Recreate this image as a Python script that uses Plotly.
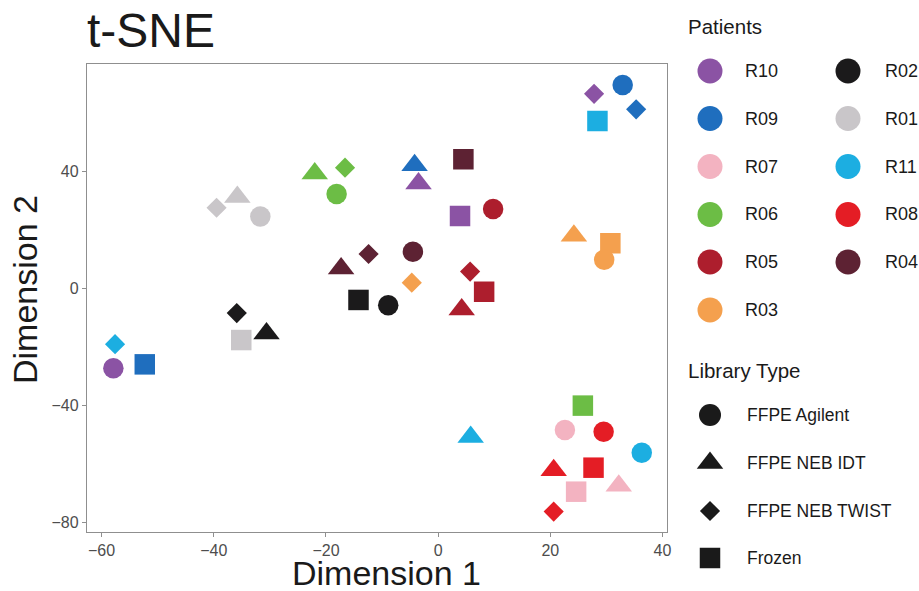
import plotly.graph_objects as go

# ---------------- data ----------------
patients = ["R10", "R10", "R10", "R10",
            "R09", "R09", "R09", "R09",
            "R07", "R07", "R07",
            "R06", "R06", "R06", "R06",
            "R05", "R05", "R05", "R05",
            "R03", "R03", "R03", "R03",
            "R02", "R02", "R02", "R02",
            "R01", "R01", "R01", "R01",
            "R11", "R11", "R11", "R11",
            "R08", "R08", "R08", "R08",
            "R04", "R04", "R04", "R04"]
library = ["FFPE NEB TWIST", "FFPE NEB IDT", "Frozen", "FFPE Agilent",
           "FFPE Agilent", "FFPE NEB TWIST", "FFPE NEB IDT", "Frozen",
           "FFPE Agilent", "Frozen", "FFPE NEB IDT",
           "FFPE NEB IDT", "FFPE NEB TWIST", "FFPE Agilent", "Frozen",
           "FFPE Agilent", "FFPE NEB TWIST", "Frozen", "FFPE NEB IDT",
           "FFPE NEB IDT", "Frozen", "FFPE Agilent", "FFPE NEB TWIST",
           "Frozen", "FFPE Agilent", "FFPE NEB TWIST", "FFPE NEB IDT",
           "FFPE NEB TWIST", "FFPE NEB IDT", "FFPE Agilent", "Frozen",
           "Frozen", "FFPE NEB TWIST", "FFPE NEB IDT", "FFPE Agilent",
           "FFPE Agilent", "FFPE NEB IDT", "Frozen", "FFPE NEB TWIST",
           "FFPE NEB IDT", "FFPE NEB TWIST", "Frozen", "FFPE Agilent"]
dim1 = [27.8, -3.5, 3.9, -57.9,
        32.9, 35.3, -4.2, -52.3,
        22.6, 24.6, 32.2,
        -22.0, -16.6, -18.1, 25.8,
        9.8, 5.7, 8.2, 4.2,
        24.2, 30.7, 29.6, -4.7,
        -14.2, -8.9, -35.9, -30.6,
        -39.5, -35.8, -31.7, -35.1,
        28.4, -57.6, 5.8, 36.3,
        29.5, 20.6, 27.7, 20.6,
        -17.3, -12.4, 4.5, -4.5]
dim2 = [66.4, 35.8, 24.7, -27.3,
        69.4, 61.1, 42.0, -26.0,
        -48.4, -69.5, -67.5,
        39.2, 41.2, 32.2, -40.1,
        27.1, 5.7, -1.2, -7.3,
        17.9, 15.4, 9.7, 1.9,
        -4.0, -5.8, -8.5, -15.5,
        27.5, 31.2, 24.5, -17.7,
        57.1, -19.1, -50.8, -56.2,
        -49.0, -62.2, -61.3, -76.3,
        6.7, 11.7, 44.1, 12.5]

patient_col1 = ["R10", "R09", "R07", "R06", "R05", "R03"]
patient_col2 = ["R02", "R01", "R11", "R08", "R04"]
library_types = ["FFPE Agilent", "FFPE NEB IDT", "FFPE NEB TWIST", "Frozen"]
x_ticks = [-60, -40, -20, 0, 20, 40]
y_ticks = [-80, -40, 0, 40]

# ---------------- styles ----------------
colors = {"R10": "#8B53A4", "R09": "#1F6EBE", "R07": "#F3B3C1", "R06": "#6CBD45",
          "R05": "#AD1E2D", "R03": "#F4A04E", "R02": "#1B1A1B", "R01": "#C9C6C9",
          "R11": "#1CAEE1", "R08": "#E41D25", "R04": "#5D2233"}
symbols = {"FFPE Agilent": "circle", "FFPE NEB IDT": "triangle-up",
           "FFPE NEB TWIST": "diamond", "Frozen": "square"}
sizes = {"FFPE Agilent": 20.5, "FFPE NEB IDT": 23, "FFPE NEB TWIST": 15.5, "Frozen": 20.5}
legend_sizes = {"FFPE Agilent": 22, "FFPE NEB IDT": 23, "FFPE NEB TWIST": 15.5, "Frozen": 20.5}

W, H = 919, 591
FONT = "Liberation Sans, Arial, sans-serif"
TXT = "#1a1a1a"
AX = "#8f8f8f"

fig = go.Figure()

# draw order: R09 beneath R10 where they overlap
order = ["R09", "R10", "R07", "R06", "R05", "R03", "R02", "R01", "R11", "R08", "R04"]
for p in order:
    idx = [i for i, q in enumerate(patients) if q == p]
    fig.add_trace(go.Scatter(
        x=[dim1[i] for i in idx], y=[dim2[i] for i in idx],
        mode="markers", showlegend=False, hoverinfo="skip",
        marker=dict(color=colors[p], opacity=1,
                    symbol=[symbols[library[i]] for i in idx],
                    size=[sizes[library[i]] for i in idx],
                    line=dict(width=0)),
        xaxis="x", yaxis="y"))

# ---------------- manual legend (page-pixel helper axes) ----------------
annotations = []
def px_ann(text, x, y, size, xanchor="left", yanchor="middle", textangle=0, color=TXT):
    annotations.append(dict(text=text, x=x / W, y=1 - y / H,
                            xref="paper", yref="paper",
                            xanchor=xanchor, yanchor=yanchor, showarrow=False,
                            textangle=textangle, font=dict(family=FONT, size=size, color=color)))

row_y = [71, 118.5, 166.5, 214.5, 262, 310]
lx, ly, lc = [], [], []
for col_x, lab_x, names in [(710, 743, patient_col1), (848, 883, patient_col2)]:
    for j, p in enumerate(names):
        lx.append(col_x); ly.append(row_y[j]); lc.append(colors[p])
        px_ann(p, lab_x, row_y[j], 18)
fig.add_trace(go.Scatter(x=lx, y=ly, mode="markers", showlegend=False, hoverinfo="skip",
                         marker=dict(color=lc, size=25, symbol="circle", opacity=1, line=dict(width=0)),
                         xaxis="x2", yaxis="y2", cliponaxis=False))

lib_y = [415, 463, 511, 558]
fig.add_trace(go.Scatter(x=[710] * len(library_types), y=lib_y, mode="markers",
                         showlegend=False, hoverinfo="skip",
                         marker=dict(color=TXT, size=[legend_sizes[t] for t in library_types],
                                     symbol=[symbols[t] for t in library_types], opacity=1,
                                     line=dict(width=0)),
                         xaxis="x2", yaxis="y2", cliponaxis=False))
for t, yy in zip(library_types, lib_y):
    px_ann(t, 745, yy, 17.5)

px_ann("Patients", 686, 26, 20.5)
px_ann("Library Type", 686, 370, 20.5)
px_ann("t-SNE", 85, 30, 48)
px_ann("Dimension 1", 386, 573, 34, xanchor="center")
px_ann("Dimension 2", 25, 290, 34, xanchor="center", textangle=-90)

plot_l, plot_r, plot_t, plot_b = 87, 667, 64, 531.5
axis_common = dict(showgrid=False, zeroline=False, showline=True, linecolor=AX, linewidth=1.3,
                   mirror=True, ticks="outside", ticklen=4, tickwidth=1.3, tickcolor=AX,
                   tickfont=dict(family=FONT, size=16, color="#4d4d4d"), automargin=False)

fig.update_layout(
    width=W, height=H,
    margin=dict(l=0, r=0, t=0, b=0),
    paper_bgcolor="white", plot_bgcolor="rgba(0,0,0,0)",
    xaxis=dict(domain=[plot_l / W, plot_r / W], range=[-62.6, 40.8],
               tickvals=x_ticks, anchor="y", **axis_common),
    yaxis=dict(domain=[1 - plot_b / H, 1 - plot_t / H], range=[-83.1, 76.6],
               tickvals=y_ticks, anchor="x", **axis_common),
    xaxis2=dict(domain=[0, 1], range=[0, W], visible=False, anchor="y2", fixedrange=True),
    yaxis2=dict(domain=[0, 1], range=[H, 0], visible=False, anchor="x2", fixedrange=True),
    annotations=annotations,
    font=dict(family=FONT, color=TXT),
)

# the window is exactly the figure size: drop the default page margin
fig.write_html("out.html",
               config={"displayModeBar": False},
               post_script="document.body.style.margin='0';document.body.style.overflow='hidden';")
